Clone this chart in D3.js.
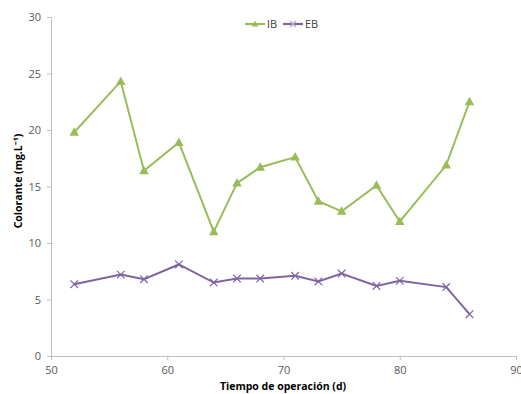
<!DOCTYPE html>
<html><head><meta charset="utf-8">
<script src="https://cdn.jsdelivr.net/npm/d3@7"></script>
<style>body{margin:0;background:#fff}svg{display:block}</style>
</head><body>
<svg id="c" width="521" height="394"></svg>
<script>
const days = [52, 56, 58, 61, 64, 66, 68, 71, 73, 75, 78, 80, 84, 86];
const ibValues = [19.8, 24.3, 16.4, 18.9, 11.0, 15.3, 16.7, 17.6, 13.7, 12.8, 15.1, 11.9, 16.9, 22.5];
const ebValues = [6.35, 7.2, 6.8, 8.1, 6.5, 6.85, 6.85, 7.1, 6.6, 7.3, 6.2, 6.65, 6.1, 3.7];
const xTicks = [50, 60, 70, 80, 90];
const yTicks = [0, 5, 10, 15, 20, 25, 30];
const seriesNames = ["IB", "EB"];
const colors = ["#9BBB59", "#8064A2"];

const svg = d3.select("#c");
const font = "'Open Sans', sans-serif";
const x = d3.scaleLinear().domain([50, 90]).range([51, 516]);
const y = d3.scaleLinear().domain([0, 30]).range([356, 17]);

const axisCol = "#BFBFBF", textCol = "#595959";

const xAxis = svg.append("g").attr("transform", "translate(0,356)")
  .call(d3.axisBottom(x).tickValues(xTicks).tickSize(4).tickSizeOuter(0).tickPadding(6));
const yAxis = svg.append("g").attr("transform", "translate(51,0)")
  .call(d3.axisLeft(y).tickValues(yTicks).tickSize(4).tickSizeOuter(0).tickPadding(6));
[xAxis, yAxis].forEach(a => {
  a.select(".domain").attr("stroke", axisCol);
  a.selectAll(".tick line").attr("stroke", axisCol);
  a.selectAll("text").attr("fill", textCol).style("font-family", font).style("font-size", "11px");
});

const data = [ibValues, ebValues];
const line = d3.line().x((d, i) => x(days[i])).y(d => y(d));

data.forEach((vals, s) => {
  svg.append("path").datum(vals).attr("d", line)
    .attr("fill", "none").attr("stroke", colors[s]).attr("stroke-width", 2);
});

function triangle(g, cx, cy, size, col) {
  g.append("path").attr("d", `M${cx},${cy - size}L${cx + size * 0.95},${cy + size * 0.7}L${cx - size * 0.95},${cy + size * 0.7}Z`)
    .attr("fill", col);
}
function cross(g, cx, cy, size, col) {
  g.append("path").attr("d", `M${cx - size},${cy - size}L${cx + size},${cy + size}M${cx - size},${cy + size}L${cx + size},${cy - size}`)
    .attr("stroke", col).attr("stroke-width", 1.2).attr("fill", "none");
}
const mk = svg.append("g");
ibValues.forEach((v, i) => triangle(mk, x(days[i]), y(v), 5, colors[0]));
ebValues.forEach((v, i) => cross(mk, x(days[i]), y(v), 3.8, colors[1]));

// legend
const lg = svg.append("g");
const legX = [245, 283];
seriesNames.forEach((n, s) => {
  lg.append("line").attr("x1", legX[s]).attr("x2", legX[s] + 20).attr("y1", 24).attr("y2", 24)
    .attr("stroke", colors[s]).attr("stroke-width", 2.2);
  if (s === 0) triangle(lg, legX[s] + 10, 24, 3.5, colors[0]);
  else cross(lg, legX[s] + 10, 24, 3, "#B4A7D6");
  lg.append("text").attr("x", legX[s] + 22).attr("y", 24).attr("dy", "0.35em")
    .attr("fill", "#404040").style("font-family", font).style("font-size", "11px").text(n);
});

// titles
svg.append("text").attr("transform", "translate(22,181) rotate(-90)").attr("text-anchor", "middle")
  .style("font-family", font).style("font-size", "10.5px").style("font-weight", "bold").attr("fill", "#000")
  .text("Colorante (mg.L⁻¹)");
svg.append("text").attr("x", 283).attr("y", 390).attr("text-anchor", "middle")
  .style("font-family", font).style("font-size", "10.5px").style("font-weight", "bold").attr("fill", "#000")
  .text("Tiempo de operación (d)");
</script>
</body></html>
